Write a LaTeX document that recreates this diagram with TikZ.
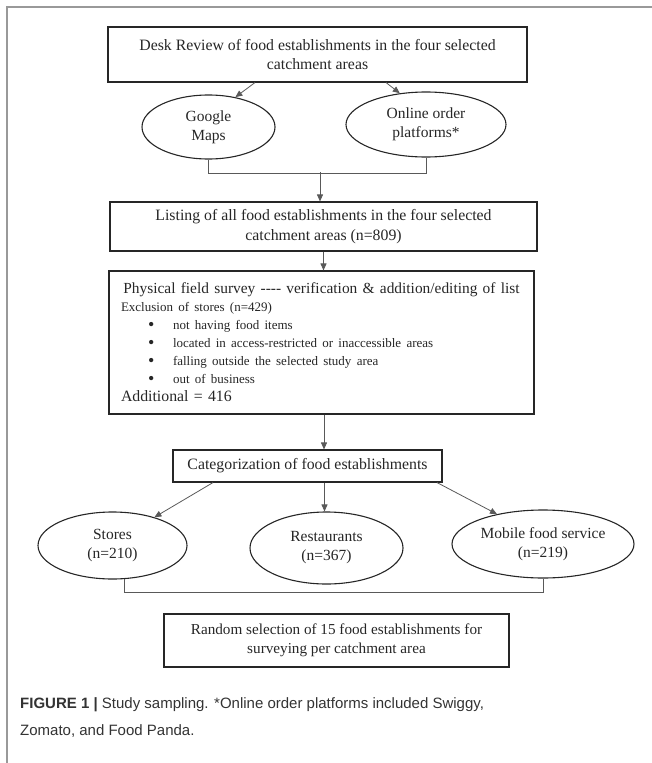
\documentclass[tikz,border=0pt]{standalone}
\usepackage{fontspec}
\setmainfont{Liberation Serif}
\newfontfamily\capfont{Liberation Sans}
\usetikzlibrary{arrows.meta,shapes.geometric}

\tikzset{
  box/.style={draw=black!85, line width=1.1pt, inner sep=3pt, align=center,
    text=black!85, font=\fontsize{15.8}{19}\selectfont},
  oval/.style={ellipse, draw=black!85, line width=1.1pt, inner sep=0pt,
    align=center, text=black!85, font=\fontsize{15.5}{19}\selectfont},
  link/.style={draw=black!65, line width=0.8pt},
  arrow/.style={link, -{Triangle[length=7pt,width=6pt]}},
}
\newcommand{\itm}[1]{\hspace*{27pt}\makebox[25pt][l]{\raisebox{-0.5pt}{\fontsize{18}{18}\selectfont\textbullet}}#1\par}

\begin{document}
\begin{tikzpicture}[x=1pt,y=-1pt]
\useasboundingbox (0,0) rectangle (652,763);
% frame of the figure
\draw[black!40, line width=1.5pt] (652,7) -- (7,7) -- (7,763);

% desk review
\node[box, minimum width=419, minimum height=55] (desk) at (317.5,54.5)
  {Desk Review of food establishments in the four selected\\catchment areas};
\node[oval, minimum width=133, minimum height=64] (google) at (208.5,127) {Google\\Maps};
\node[oval, minimum width=160, minimum height=65] (online) at (426,124.5) {Online order\\platforms*};

% listing and field survey
\node[box, minimum width=427, minimum height=49, font=\fontsize{15.8}{20}\selectfont] (listing) at (323.5,226.5)
  {Listing of all food establishments in the four selected\\catchment areas (n=809)};
\node[box, align=left, minimum width=425, minimum height=143, text width=401,
  inner xsep=12pt, inner ysep=0pt] (survey) at (321.5,342.5)
  {\fontsize{15.4}{18}\selectfont
   {\centering Physical field survey -{}-{}-{}- verification \& addition/editing of list\par}
   {\fontsize{13}{18}\selectfont
   Exclusion of stores (n=429)\par
   \itm{not having food items}
   \itm{located in access-restricted or inaccessible areas}
   \itm{falling outside the selected study area}
   \itm{out of business}}
   {\fontsize{15.8}{18}\selectfont Additional = 416\par}};

% categories
\node[box, minimum width=269, minimum height=32] (categ) at (307.5,466)
  {Categorization of food establishments};
\node[oval, minimum width=149, minimum height=67] (stores) at (112.5,545.5) {Stores\\(n=210)};
\node[oval, minimum width=153, minimum height=72] (rest) at (326.5,548) {Restaurants\\(n=367)};
\node[oval, minimum width=182, minimum height=68] (mobile) at (543,544) {Mobile food service\\(n=219)};
\node[box, minimum width=345, minimum height=53, font=\fontsize{15.2}{19}\selectfont] (random) at (336.5,640.5)
  {Random selection of 15 food establishments for\\surveying per catchment area};

% caption
\node[anchor=base west, align=left, inner sep=0pt, text=black!80,
  font=\capfont\fontsize{15}{27}\selectfont] (caption) at (20,735)
  {\textbf{FIGURE 1 |} Study sampling. *Online order platforms included Swiggy,\\Zomato, and Food Panda.};

% connectors
\draw[arrow] ([xshift=-62.5pt]desk.south) -- (google.48);
\draw[arrow] ([xshift=68.5pt]desk.south) -- (online.130);
\draw[link] (google.south) -- ++(0,14) -| (online.south);
\path (listing.north) ++(-3.5,-29) coordinate (join1);
\draw[arrow] (join1) -- (join1 |- listing.north);
\draw[arrow] (listing.south) -- (listing.south |- survey.north);
\draw[arrow] ([xshift=2.5pt]survey.south) -- ([xshift=2.5pt]survey.south |- categ.north);
\draw[arrow] ([xshift=-94.5pt]categ.south) -- (stores.34);
\draw[arrow] ([xshift=17pt]categ.south) -- ([xshift=17pt]categ.south |- rest.north);
\draw[arrow] ([xshift=129.5pt]categ.south) -- (mobile.147);
\draw[link] (stores.-70) -- ++(0,13) -| (mobile.south);
\end{tikzpicture}
\end{document}
